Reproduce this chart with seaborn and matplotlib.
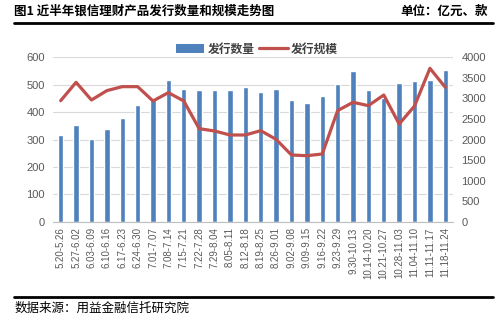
import matplotlib
matplotlib.use("Agg")
import matplotlib.pyplot as plt
from matplotlib.lines import Line2D
from matplotlib.patches import Patch
import seaborn as sns
import pandas as pd

categories = ["5.20-5.26", "5.27-6.02", "6.03-6.09", "6.10-6.16", "6.17-6.23", "6.24-6.30",
              "7.01-7.07", "7.08-7.14", "7.15-7.21", "7.22-7.28", "7.29-8.04", "8.05-8.11",
              "8.12-8.18", "8.19-8.25", "8.26-9.01", "9.02-9.08", "9.09-9.15", "9.16-9.22",
              "9.23-9.29", "9.30-10.13", "10.14-10.20", "10.21-10.27", "10.28-11.03",
              "11.04-11.10", "11.11-11.17", "11.18-11.24"]
counts = [316, 353, 302, 338, 378, 426, 445, 517, 484, 481, 481, 481, 492, 474,
          484, 444, 433, 459, 504, 550, 481, 450, 507, 515, 517, 554]
scale = [2945, 3391, 2961, 3189, 3286, 3286, 2937, 3140, 2937, 2264, 2207, 2110, 2110, 2215,
         2004, 1623, 1606, 1647, 2702, 2905, 2824, 3083, 2377, 2815, 3732, 3270]
left_ticks = [0, 100, 200, 300, 400, 500, 600]
right_ticks = [0, 500, 1000, 1500, 2000, 2500, 3000, 3500, 4000]

df = pd.DataFrame({"period": categories, "count": counts, "scale": scale})

sns.set_theme(style="white")
plt.rcParams["font.family"] = ["Liberation Sans", "Noto Sans CJK SC", "DejaVu Sans"]

BAR = "#4F81BD"
LINE = "#C0504D"
TXT = "#595959"

fig = plt.figure(figsize=(5.03, 3.21), dpi=100)
ax = fig.add_axes([53 / 503, 1 - 221.7 / 321, 400 / 503, (221.7 - 57.3) / 321])

sns.barplot(data=df, x="period", y="count", color=BAR, width=0.35, saturation=1, ax=ax)
ax.set_ylim(0, 600)
ax.set_yticks(left_ticks)
ax.set_xlim(-0.5, len(categories) - 0.5)
ax.yaxis.grid(True, color="#D9D9D9", linewidth=0.8)
ax.set_axisbelow(True)
ax.set_xlabel("")
ax.set_ylabel("")
for s in ["left", "right", "top"]:
    ax.spines[s].set_visible(False)
ax.spines["bottom"].set_color("#BFBFBF")
ax.spines["bottom"].set_linewidth(0.8)
ax.tick_params(axis="both", length=0, colors=TXT, labelsize=8)
ax.tick_params(axis="x", labelrotation=90, labelsize=7, pad=4)
ax.tick_params(axis="y", pad=6)

ax2 = ax.twinx()
sns.lineplot(data=df, x="period", y="scale", color=LINE, linewidth=2.3, sort=False, ax=ax2)
ax2.set_ylim(0, 4000)
ax2.set_yticks(right_ticks)
ax2.set_xlim(-0.5, len(categories) - 0.5)
ax2.set_xlabel("")
ax2.set_ylabel("")
for s in ["left", "right", "top", "bottom"]:
    ax2.spines[s].set_visible(False)
ax2.tick_params(axis="y", length=0, colors=TXT, labelsize=8, pad=6)
ax2.grid(False)

handles = [Patch(facecolor=BAR, edgecolor="none"), Line2D([0], [0], color=LINE, linewidth=2.3)]
fig.legend(handles, ["发行数量", "发行规模"], loc="center", bbox_to_anchor=(257 / 503, 1 - 49 / 321),
           ncol=2, frameon=False, handlelength=2.4, handletextpad=0.3, columnspacing=0.4,
           prop={"family": ["Noto Sans CJK SC"], "weight": "bold", "size": 8.5},
           labelcolor="#404040")

fig.text(14 / 503, 1 - 11 / 321, "图1 近半年银信理财产品发行数量和规模走势图", ha="left", va="center",
         fontsize=9, fontweight="bold", family=["Noto Sans CJK SC"], color="black")
fig.text(488 / 503, 1 - 11 / 321, "单位：亿元、款", ha="right", va="center",
         fontsize=9, fontweight="bold", family=["Noto Sans CJK SC"], color="black")
fig.add_artist(Line2D([14 / 503, 493 / 503], [1 - 22.5 / 321, 1 - 22.5 / 321], color="black", linewidth=2))
fig.add_artist(Line2D([14 / 503, 493 / 503], [1 - 296.5 / 321, 1 - 296.5 / 321], color="black", linewidth=2))
fig.text(15 / 503, 1 - 308.5 / 321, "数据来源：用益金融信托研究院", ha="left", va="center",
         fontsize=9, family=["Noto Sans CJK SC"], color="black")

fig.savefig("out.png", dpi=100, facecolor="white")
